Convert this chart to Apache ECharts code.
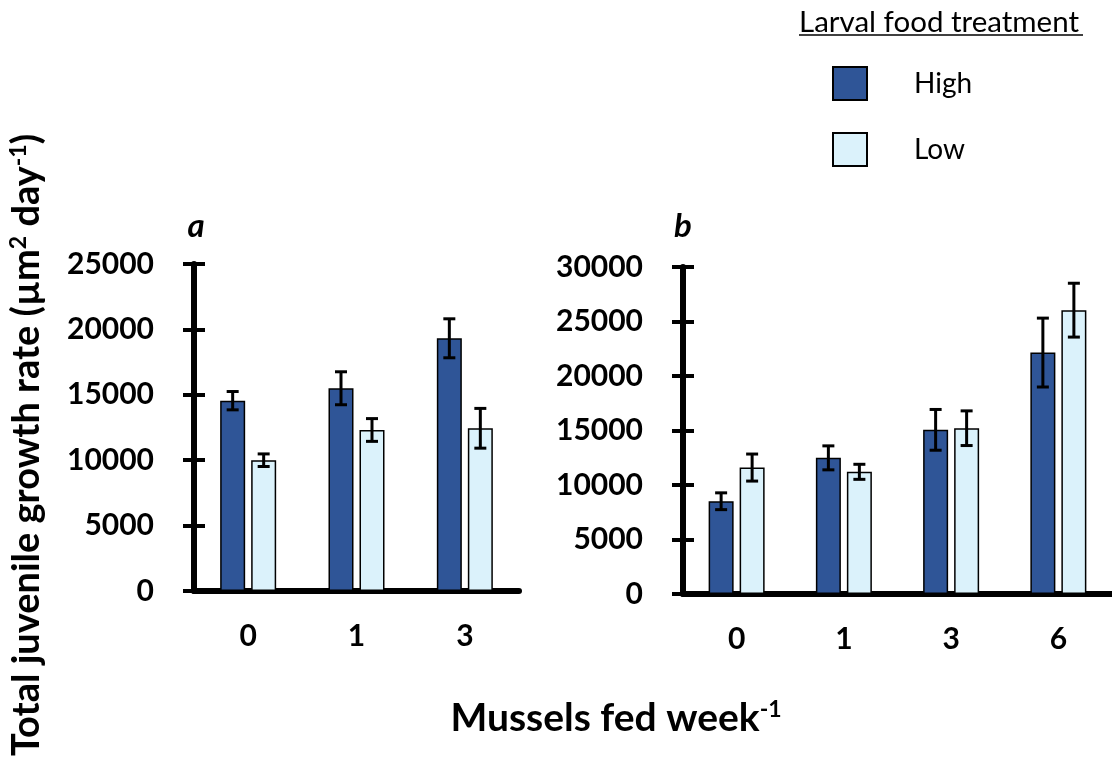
<!DOCTYPE html>
<html>
<head>
<meta charset="utf-8">
<script src="https://cdn.jsdelivr.net/npm/echarts@6/dist/echarts.min.js"></script>
<style>
  html, body { margin: 0; padding: 0; background: #fff; }
  #chart { width: 1112px; height: 776px; }
</style>
</head>
<body>
<div id="chart"></div>
<script>
  // panel a
  const catsA = ['0', '1', '3']
  const highA = [14550, 15500, 19320]
  const highAErr = [700, 1260, 1490]
  const lowA = [10000, 12310, 12440]
  const lowAErr = [480, 870, 1520]
  // panel b
  const catsB = ['0', '1', '3', '6']
  const highB = [8510, 12490, 15060, 22150]
  const highBErr = [770, 1100, 1870, 3160]
  const lowB = [11600, 11210, 15210, 26040]
  const lowBErr = [1240, 690, 1590, 2470]

  const FONT = 'Lato'
  const HIGH_COLOR = '#2F5597'
  const LOW_COLOR = '#DBF2FB'
  const BAR_W = 25
  const OFFSET = 15.5 // half of bar width + gap

  const chart = echarts.init(document.getElementById('chart'))

  function errSeries (name, cats, means, errs, gridIdx, offset) {
    return {
      type: 'custom',
      name: name + ' err',
      xAxisIndex: gridIdx,
      yAxisIndex: gridIdx * 2,
      z: 5,
      silent: true,
      data: means.map((m, i) => [i, m, errs[i]]),
      encode: { x: 0, y: 1 },
      renderItem: (params, api) => {
        const i = api.value(0)
        const m = api.value(1)
        const e = api.value(2)
        const x = api.coord([i, m])[0] + offset
        const top = api.coord([i, m + e])[1]
        const bot = api.coord([i, m - e])[1]
        const st = { stroke: '#000', lineWidth: 3 }
        return {
          type: 'group',
          children: [
            { type: 'line', shape: { x1: x, y1: top, x2: x, y2: bot }, style: st },
            { type: 'line', shape: { x1: x - 6, y1: top, x2: x + 6, y2: top }, style: st },
            { type: 'line', shape: { x1: x - 6, y1: bot, x2: x + 6, y2: bot }, style: st }
          ]
        }
      }
    }
  }

  function barSeries (name, data, color, gridIdx) {
    return {
      type: 'bar',
      name: name,
      xAxisIndex: gridIdx,
      yAxisIndex: gridIdx * 2,
      data: data,
      barWidth: BAR_W,
      barGap: '24%',
      itemStyle: { color: color, borderColor: '#000', borderWidth: 1.5 },
      emphasis: { disabled: true }
    }
  }

  function xAx (cats, gridIdx) {
    return {
      type: 'category',
      gridIndex: gridIdx,
      data: cats,
      axisLine: { lineStyle: { color: '#000', width: 6 } },
      axisTick: { show: false },
      axisLabel: { color: '#000', fontFamily: FONT, fontWeight: 'bold', fontSize: 30, margin: 30 }
    }
  }

  // main y axis: line + labels
  function yAx (max, gridIdx) {
    return {
      type: 'value',
      gridIndex: gridIdx,
      position: 'left',
      min: 0,
      max: max,
      interval: 5000,
      splitLine: { show: false },
      axisLine: { show: true, onZero: false, lineStyle: { color: '#000', width: 6 } },
      axisTick: { show: false },
      axisLabel: {
        color: '#000',
        fontFamily: FONT,
        fontWeight: 'bold',
        fontSize: 30,
        margin: 40,
        formatter: v => String(v)
      }
    }
  }

  // helper y axis shifted right so its long ticks cross the main axis line
  function yTickAx (max, gridIdx) {
    return {
      type: 'value',
      gridIndex: gridIdx,
      position: 'left',
      offset: -11,
      min: 0,
      max: max,
      interval: 5000,
      splitLine: { show: false },
      axisLine: { show: false },
      axisTick: { show: true, length: 22, lineStyle: { color: '#000', width: 4 } },
      axisLabel: { show: false }
    }
  }

  const supRich = {
    sup: { fontSize: 23, fontFamily: FONT, fontWeight: 'bold', verticalAlign: 'top', lineHeight: 40, fill: '#000' }
  }

  const option = {
    backgroundColor: '#fff',
    animation: false,
    grid: [
      { left: 194, top: 264, width: 325, height: 327 },
      { left: 683, top: 267, width: 437, height: 327 }
    ],
    xAxis: [xAx(catsA, 0), xAx(catsB, 1)],
    yAxis: [
      yAx(25000, 0), yTickAx(25000, 0),
      yAx(30000, 1), yTickAx(30000, 1)
    ],
    legend: {
      data: ['High', 'Low'],
      orient: 'vertical',
      left: 827,
      top: 61,
      icon: 'rect',
      itemWidth: 34,
      itemHeight: 33,
      itemGap: 31,
      selectedMode: false,
      textStyle: { color: '#000', fontFamily: FONT, fontSize: 28, padding: [0, 0, 0, 42] }
    },
    graphic: [
      {
        type: 'text',
        x: 799,
        y: 22,
        style: { text: 'Larval food treatment', fill: '#000', fontFamily: FONT, fontSize: 29.5, align: 'left', verticalAlign: 'middle' }
      },
      {
        type: 'line',
        shape: { x1: 799, y1: 35, x2: 1083, y2: 35 },
        style: { stroke: '#000', lineWidth: 1.5 }
      },
      {
        type: 'text',
        x: 196,
        y: 226,
        style: { text: 'a', fill: '#000', fontFamily: FONT, fontSize: 33, fontWeight: 'bold', fontStyle: 'italic', align: 'center', verticalAlign: 'middle' }
      },
      {
        type: 'text',
        x: 683,
        y: 226,
        style: { text: 'b', fill: '#000', fontFamily: FONT, fontSize: 33, fontWeight: 'bold', fontStyle: 'italic', align: 'center', verticalAlign: 'middle' }
      },
      {
        type: 'text',
        x: 27,
        y: 445,
        rotation: Math.PI / 2,
        style: {
          text: 'Total juvenile growth rate (µm{sup|2} day{sup|-1})',
          fill: '#000',
          fontFamily: FONT,
          fontSize: 38,
          fontWeight: 'bold',
          align: 'center',
          verticalAlign: 'middle',
          rich: supRich
        }
      },
      {
        type: 'text',
        x: 616,
        y: 718,
        style: {
          text: 'Mussels fed week{sup|-1}',
          fill: '#000',
          fontFamily: FONT,
          fontSize: 39,
          fontWeight: 'bold',
          align: 'center',
          verticalAlign: 'middle',
          rich: supRich
        }
      }
    ],
    series: [
      barSeries('High', highA, HIGH_COLOR, 0),
      barSeries('Low', lowA, LOW_COLOR, 0),
      barSeries('High', highB, HIGH_COLOR, 1),
      barSeries('Low', lowB, LOW_COLOR, 1),
      errSeries('High', catsA, highA, highAErr, 0, -OFFSET),
      errSeries('Low', catsA, lowA, lowAErr, 0, OFFSET),
      errSeries('High', catsB, highB, highBErr, 1, -OFFSET),
      errSeries('Low', catsB, lowB, lowBErr, 1, OFFSET)
    ]
  }

  chart.setOption(option)
</script>
</body>
</html>
